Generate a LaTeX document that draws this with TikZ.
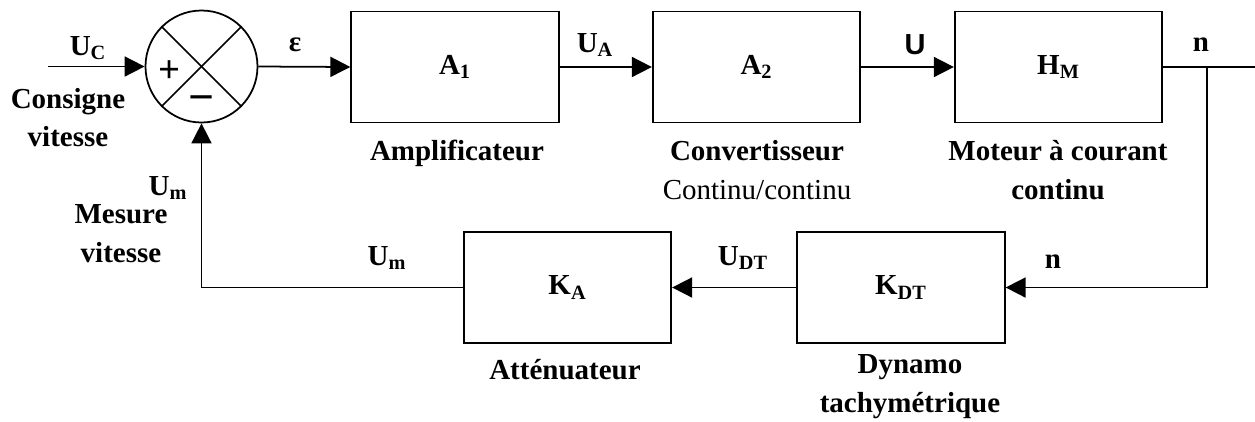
\documentclass[tikz,border=0pt]{standalone}
\usepackage{fontspec}
\setmainfont{Liberation Serif}
\newfontfamily\arialfont{Liberation Sans}
\usetikzlibrary{arrows.meta}
\tikzstyle{block}=[draw, line width=1pt, minimum width=4.15cm, minimum height=2.22cm, inner sep=0pt]
\tikzstyle{summer}=[draw, circle, line width=1pt, minimum size=2.24cm, inner sep=0pt]
\tikzstyle{wire}=[line width=1pt]
\tikzstyle{signal}=[wire, -{Triangle[length=4mm, width=4mm]}]
\tikzstyle{caption}=[align=center]

\begin{document}
\begin{tikzpicture}[font=\fontsize{16.5pt}{22pt}\selectfont\bfseries]
  \useasboundingbox (0, 0) rectangle (25.1, -8.42);

  % chaine directe
  \node[summer] (sum) at (4.03, -1.33) {};
  \draw[wire] (sum.north east) -- (sum.south west);
  \draw[wire] (sum.north west) -- (sum.south east);
  \node (plus) at (3.4, -1.44) {\fontsize{22pt}{22pt}\selectfont +};
  \node (moins) at (4.04, -2.08) {\fontsize{26pt}{26pt}\selectfont −};

  \node[block] (ampli) at (9.1, -1.34) {A\textsubscript{1}};
  \node[block] (conv) at (15.13, -1.34) {A\textsubscript{2}};
  \node[block] (motor) at (21.17, -1.34) {H\textsubscript{M}};

  % retour
  \node[block] (dynamo) at (18.02, -5.75) {K\textsubscript{DT}};
  \node[block] (atten) at (11.35, -5.75) {K\textsubscript{A}};

  \coordinate (in) at (0.96, -1.33);
  \coordinate (out) at (25.1, -1.34);
  \coordinate (branch) at (24.14, -1.34);

  \draw[signal] (in) -- (sum.west);
  \draw[signal] (sum.east) -- (ampli.west);
  \draw[signal] (ampli.east) -- (conv.west);
  \draw[signal] (conv.east) -- (motor.west);
  \draw[wire] (motor.east) -- (out);
  \draw[signal] (branch) |- (dynamo.east);
  \draw[signal] (dynamo.west) -- (atten.east);
  \draw[signal] (atten.west) -| (sum.south);

  % signaux
  \node (uc) at (1.76, -0.96) {U\textsubscript{C}};
  \node (eps) at (5.9, -0.9) {ε};
  \node (ua) at (11.9, -0.9) {U\textsubscript{A}};
  \node (u) at (18.3, -0.9) {\arialfont U};
  \node (n1) at (24.02, -0.9) {n};
  \node (um1) at (3.36, -3.76) {U\textsubscript{m}};
  \node (um2) at (7.74, -5.16) {U\textsubscript{m}};
  \node (udt) at (14.86, -5.16) {U\textsubscript{DT}};
  \node (n2) at (21.06, -5.24) {n};

  % legendes
  \node[caption] (consigne) at (1.36, -2.35) {Consigne\\vitesse};
  \node[caption] (mesure) at (2.42, -4.67) {Mesure\\vitesse};
  \node[caption] (lampli) at (9.14, -3.06) {Amplificateur};
  \node[caption] (lconv) at (15.14, -3.4) {Convertisseur\\\mdseries Continu/continu};
  \node[caption] (lmotor) at (21.16, -3.4) {Moteur à courant\\continu};
  \node[caption] (latten) at (11.3, -7.4) {Atténuateur};
  \node[caption] (ldynamo) at (18.2, -7.73) {Dynamo\\tachymétrique};
\end{tikzpicture}
\end{document}
